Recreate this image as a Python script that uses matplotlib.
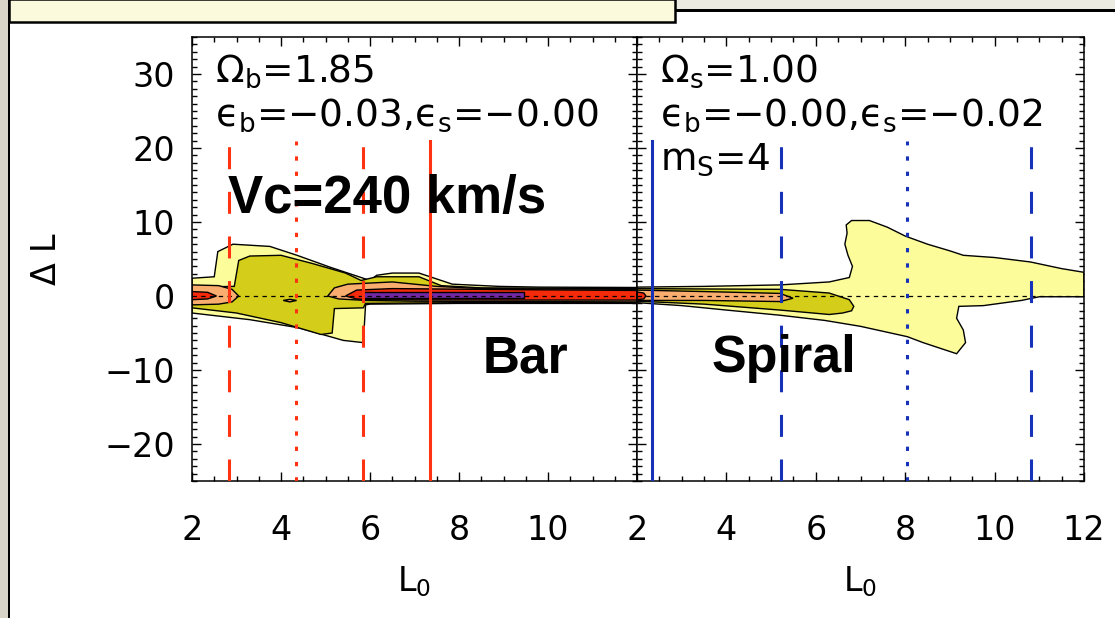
import matplotlib
matplotlib.use("Agg")
import matplotlib.pyplot as plt
from matplotlib.patches import Rectangle
from matplotlib.ticker import MultipleLocator

# ---- contour levels (outline polygons, L0 vs Delta L) ----
# bar-only run
bar_yellow_L = [2.0, 2.5, 2.58, 2.92, 3.75, 4.36, 5.1, 6.0, 6.15, 6.5, 7.1, 7.55, 7.85, 8.9, 9.8, 12.0,
                12.0, 8.0, 6.0, 5.9, 5.85, 5.4, 4.4, 3.3, 2.0]
bar_yellow_dL = [2.4, 2.6, 6.0, 7.0, 6.7, 5.5, 3.9, 2.1, 2.8, 3.1, 3.1, 2.2, 1.6, 1.3, 1.2, 1.15,
                 -1.0, -1.0, -1.1, -1.2, -6.3, -6.0, -4.3, -3.2, -2.3]
bar_olive_L = [2.0, 2.95, 3.05, 3.3, 4.0, 4.7, 5.45, 5.8, 6.15, 7.1, 7.6, 8.5, 12.0,
               12.0, 8.0, 5.9, 5.85, 5.2, 5.15, 4.9, 4.0, 3.0, 2.0]
bar_olive_dL = [1.2, 1.3, 4.8, 5.4, 5.5, 4.4, 3.1, 2.1, 2.6, 2.6, 1.4, 1.1, 1.0,
                -0.9, -0.9, -1.0, -1.6, -1.7, -5.0, -5.2, -3.6, -2.3, -1.6]
bar_orange1_L = [2.0, 2.6, 2.9, 3.05, 2.9, 2.6, 2.0]
bar_orange1_dL = [1.5, 1.4, 0.9, 0.0, -0.8, -1.1, -1.2]
bar_orange2_L = [5.05, 5.2, 5.5, 6.5, 7.5, 8.5, 12.0, 12.0, 7.0, 5.9, 5.3]
bar_orange2_dL = [0.0, 1.1, 1.6, 1.9, 1.3, 1.0, 0.9, -0.8, -0.7, -0.6, -0.4]
bar_orange3_L = [4.05, 4.2, 4.35, 4.2]
bar_orange3_dL = [-0.6, -0.45, -0.6, -0.8]
bar_red1_L = [2.0, 2.35, 2.55, 2.35, 2.0]
bar_red1_dL = [0.6, 0.5, 0.0, -0.4, -0.5]
bar_red2_L = [5.45, 5.7, 6.5, 9.5, 12.0, 12.0, 9.5, 6.0, 5.7]
bar_red2_dL = [0.0, 0.8, 1.0, 0.85, 0.75, -0.55, -0.55, -0.5, -0.4]
bar_purple_L = [5.85, 9.45, 9.45, 5.85]
bar_purple_dL = [0.5, 0.5, -0.3, -0.3]

# spiral-only run
sp_yellow_L = [2.0, 3.5, 5.2, 6.3, 6.75, 6.82, 6.72, 6.65, 6.7, 6.68, 6.8, 7.2, 7.6, 8.0, 8.5, 9.0,
               9.3, 10.0, 10.8, 11.5, 12.0,
               12.0, 11.0, 10.6, 9.75, 9.2, 9.15, 9.3, 9.35, 9.15, 8.4, 8.05, 7.0, 6.2, 5.2, 4.0,
               3.0, 2.0]
sp_yellow_dL = [1.2, 1.3, 1.5, 1.9, 2.5, 4.0, 5.5, 7.0, 8.5, 9.6, 10.2, 10.2, 9.3, 8.1, 7.0, 6.1,
                5.5, 5.2, 4.6, 3.7, 3.2,
                -0.1, -0.1, -0.6, -1.3, -1.4, -3.0, -4.6, -6.3, -7.8, -6.3, -5.5, -4.1, -3.3, -2.6,
                -1.9, -1.3, -0.9]
sp_olive_L = [2.0, 5.2, 6.3, 6.75, 6.85, 6.8, 6.6, 6.3, 5.2, 3.5, 2.0]
sp_olive_dL = [1.0, 0.9, 0.4, -0.5, -1.4, -2.0, -2.3, -2.5, -1.9, -1.1, -0.7]
sp_orange_L = [2.0, 3.5, 5.2, 5.49, 5.2, 3.5, 2.0]
sp_orange_dL = [0.8, 0.6, 0.35, -0.3, -0.75, -0.6, -0.6]
sp_red_L = [2.0, 2.15, 2.2, 2.15, 2.0]
sp_red_dL = [0.55, 0.4, 0.0, -0.4, -0.5]

# resonance radii
bar_dashed_L = [2.83, 5.84]
bar_dotted_L = [4.34]
bar_solid_L = [7.35]
sp_dashed_L = [5.22, 10.82]
sp_dotted_L = [8.03]
sp_solid_L = [2.34]

bar_lines = [r"$\mathregular{\Omega_b}$=1.85",
             "$\\mathregular{ϵ_b}$=−0.03,$\\mathregular{ϵ_s}$=−0.00"]
sp_lines = [r"$\mathregular{\Omega_s}$=1.00",
            "$\\mathregular{ϵ_b}$=−0.00,$\\mathregular{ϵ_s}$=−0.02",
            r"$\mathregular{m_S}$=4"]

YELLOW = "#fdfc9b"
OLIVE = "#d4cd1a"
ORANGE = "#f9ad6e"
RED = "#f52a0a"
PURPLE = "#7428a5"
LRED = "#ff3312"
LBLUE = "#1632b8"

plt.rcParams["font.family"] = ["DejaVu Sans"]
plt.rcParams["mathtext.fontset"] = "dejavusans"

W, H = 1115, 618
fig = plt.figure(figsize=(W / 100, H / 100), dpi=100)
fig.patch.set_facecolor("white")

# slide furniture around the figure
fig.add_artist(Rectangle((0, 0), 8 / W, 1, transform=fig.transFigure,
                         facecolor="#d8d4c8", edgecolor="none"))
fig.add_artist(Rectangle((7.5 / W, 0), 2.5 / W, 1, transform=fig.transFigure,
                         facecolor="black", edgecolor="none"))
fig.add_artist(Rectangle((676 / W, 1 - 12 / H), 1 - 676 / W, 12 / H, transform=fig.transFigure,
                         facecolor="#ecebe1", edgecolor="none"))
fig.add_artist(Rectangle((676 / W, 1 - 12 / H), 1 - 676 / W, 2.5 / H, transform=fig.transFigure,
                         facecolor="black", edgecolor="none"))
fig.add_artist(Rectangle((9 / W, 1 - 22 / H), 666 / W, 23 / H, transform=fig.transFigure,
                         facecolor="#fcfadc", edgecolor="black", linewidth=1.8))

ax1 = fig.add_axes([192 / W, 1 - 481 / H, 445 / W, 444 / H])
ax2 = fig.add_axes([637 / W, 1 - 481 / H, 447 / W, 444 / H])


def level(ax, L, dL, color):
    ax.fill(L, dL, facecolor=color, edgecolor="black", linewidth=1.0, zorder=2)


def resonances(ax, solid, dashed, dotted, color):
    for x in solid:
        ax.plot([x, x], [-25, 21], color=color, lw=2.2, zorder=5)
    for x in dashed:
        ax.plot([x, x], [-25, 21], color=color, lw=2.2, dashes=(7.2, 7.4), zorder=5)
    for x in dotted:
        ax.plot([x, x], [-25, 21], color=color, lw=2.2, dashes=(1.4, 3.6), zorder=5)


level(ax1, bar_yellow_L, bar_yellow_dL, YELLOW)
level(ax1, bar_olive_L, bar_olive_dL, OLIVE)
level(ax1, bar_orange1_L, bar_orange1_dL, ORANGE)
level(ax1, bar_orange2_L, bar_orange2_dL, ORANGE)
level(ax1, bar_orange3_L, bar_orange3_dL, ORANGE)
level(ax1, bar_red1_L, bar_red1_dL, RED)
level(ax1, bar_red2_L, bar_red2_dL, RED)
level(ax1, bar_purple_L, bar_purple_dL, PURPLE)

level(ax2, sp_yellow_L, sp_yellow_dL, YELLOW)
level(ax2, sp_olive_L, sp_olive_dL, OLIVE)
level(ax2, sp_orange_L, sp_orange_dL, ORANGE)
level(ax2, sp_red_L, sp_red_dL, RED)

resonances(ax1, bar_solid_L, bar_dashed_L, bar_dotted_L, LRED)
resonances(ax2, sp_solid_L, sp_dashed_L, sp_dotted_L, LBLUE)

for ax in (ax1, ax2):
    ax.axhline(0, color="black", lw=0.9, dashes=(3.5, 3.5), zorder=4)
    ax.set_xlim(2, 12)
    ax.set_ylim(-25, 35)
    ax.xaxis.set_major_locator(MultipleLocator(2))
    ax.xaxis.set_minor_locator(MultipleLocator(0.5))
    ax.yaxis.set_major_locator(MultipleLocator(10))
    ax.yaxis.set_minor_locator(MultipleLocator(1))
    ax.tick_params(which="both", direction="in", top=True, right=True, width=1.0,
                   labelsize=24)
    ax.tick_params(which="major", length=6.5)
    ax.tick_params(which="minor", length=3.3)
    ax.tick_params(axis="x", pad=24)
    ax.tick_params(axis="y", pad=12)
    for sp in ax.spines.values():
        sp.set_linewidth(1.1)
    ax.set_xlabel(r"$\mathregular{L_0}$", fontsize=24, labelpad=12)

ax1.set_xticks([2, 4, 6, 8, 10])
ax2.set_xticks([2, 4, 6, 8, 10, 12])
ax2.tick_params(labelleft=False)
ax1.set_ylabel(r"$\Delta$ L", fontsize=24, labelpad=30)

for i, s in enumerate(bar_lines):
    ax1.text(2.52, 29.0 - 6.0 * i, s, fontsize=27, va="baseline", ha="left", zorder=6)
for i, s in enumerate(sp_lines):
    ax2.text(2.51, 29.0 - 6.0 * i, s, fontsize=27, va="baseline", ha="left", zorder=6)

bold = dict(family="Liberation Sans", fontweight="bold", va="baseline", zorder=7)
ax1.text(2.81, 11.2, "Vc=240 km/s", ha="left", fontsize=38, **bold)
ax1.text(8.54, -10.3, "Bar", ha="left", fontsize=37, **bold)
ax2.text(3.66, -10.3, "Spiral", ha="left", fontsize=37.5, **bold)

fig.savefig("out.png", dpi=100)
